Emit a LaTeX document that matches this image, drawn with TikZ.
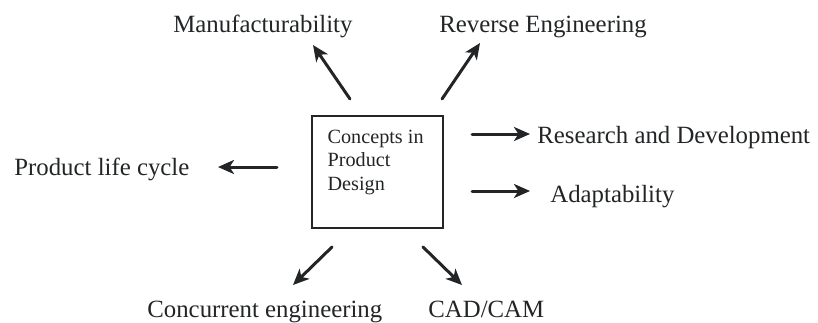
\documentclass[tikz,border=0pt]{standalone}
\usepackage{fontspec}
\setmainfont{Liberation Serif}
\usepackage{xcolor}
\definecolor{ink-900}{RGB}{34,36,38}
\usetikzlibrary{arrows.meta,positioning}

\begin{document}
\begin{tikzpicture}[
    x=0.5pt, y=-0.5pt,
    every node/.style={inner sep=0pt, text=ink-900},
    label text/.style={font=\fontsize{12.4}{14}\selectfont, anchor=base west},
    topic arrow/.style={draw=ink-900, line width=1.5pt, line cap=round, -{Stealth[length=8pt, width=7pt, inset=2.2pt]}}
]

% Canvas
\useasboundingbox (0,0) rectangle (818,322);

% Central box
\node[
    draw=ink-900,
    line width=0.75pt,
    minimum width=65.5pt,
    minimum height=56pt
] (core) at (377.5,172) {};
\node[
    font=\fontsize{10.1}{11.8}\selectfont,
    align=left,
    anchor=north west
] (coretext) at ([xshift=8pt, yshift=-7pt]core.north west) {Concepts in\\Product\\Design};

% Surrounding topics
\node[label text] (manuf) at (173,32) {Manufacturability};
\node[label text] (reverse) at (439,32) {Reverse Engineering};
\node[label text] (research) at (537,143) {Research and Development};
\node[label text] (adapt) at (550,202) {Adaptability};
\node[label text] (lifecycle) at (14,175) {Product life cycle};
\node[label text] (concurrent) at (147,317) {Concurrent engineering};
\node[label text] (cadcam) at (428,317) {CAD/CAM};

% Arrow end points
\coordinate (manuf-t) at (350,99);   \coordinate (manuf-h) at (313,45);
\coordinate (reverse-t) at (442,99); \coordinate (reverse-h) at (480,43);
\coordinate (research-t) at (472,134); \coordinate (research-h) at (530,134);
\coordinate (adapt-t) at (472,191);  \coordinate (adapt-h) at (530,191);
\coordinate (lifecycle-t) at (277,167); \coordinate (lifecycle-h) at (218,167);
\coordinate (concurrent-t) at (332,247); \coordinate (concurrent-h) at (293,285);
\coordinate (cadcam-t) at (423,247); \coordinate (cadcam-h) at (462,285);

% Arrows
\foreach \n in {manuf,reverse,research,adapt,lifecycle,concurrent,cadcam}
    \draw[topic arrow] (\n-t) -- (\n-h);

\end{tikzpicture}
\end{document}
